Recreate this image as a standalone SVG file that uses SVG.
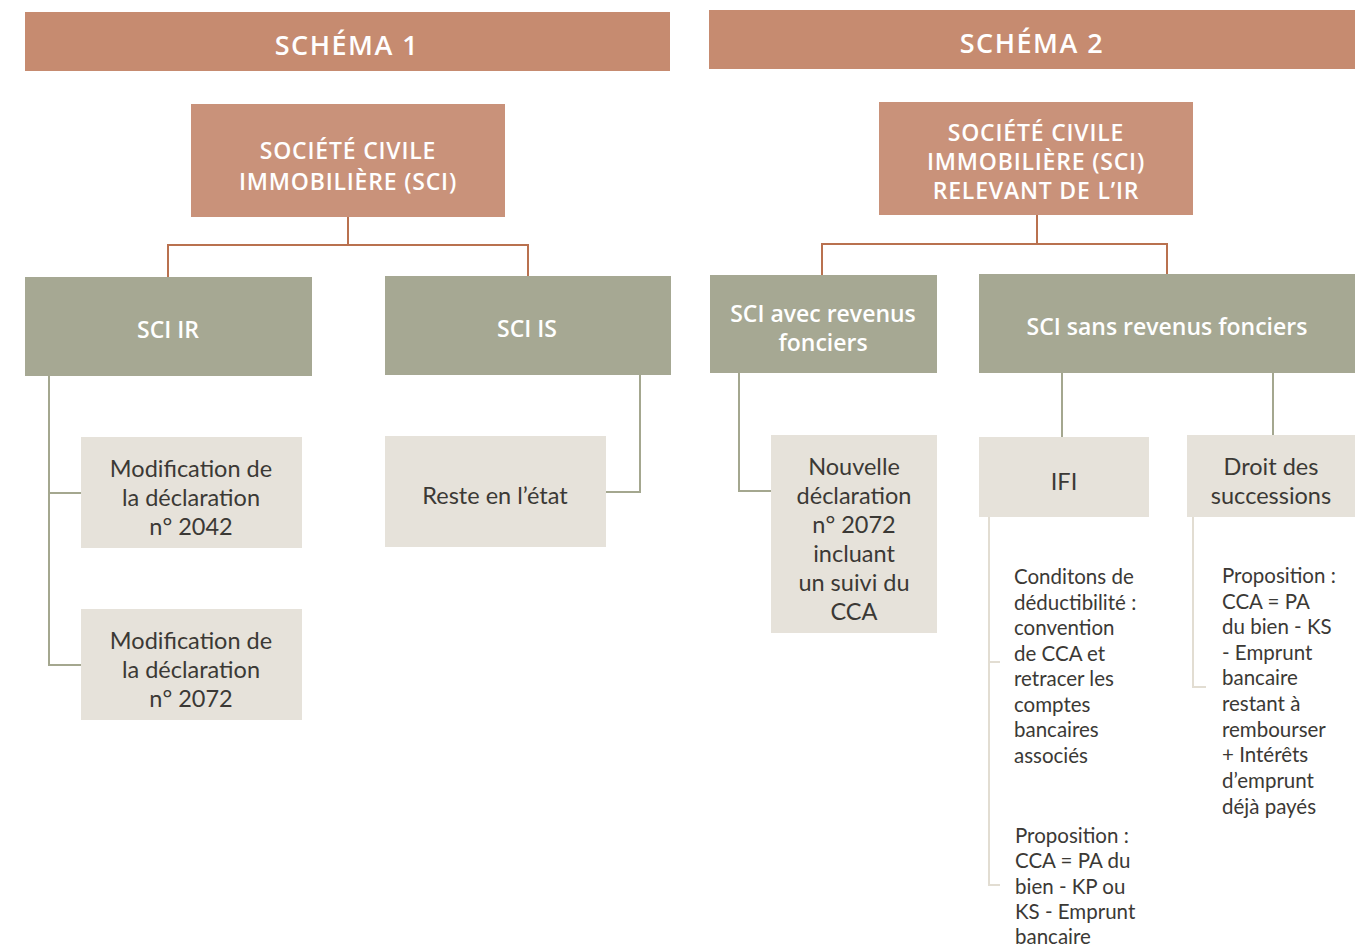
<svg xmlns="http://www.w3.org/2000/svg" width="1366" height="946" viewBox="0 0 1366 946">
<style>
.hdr{fill:#c68b70}
.top{fill:#c9927a}
.mid{fill:#a6a893}
.leaf{fill:#e6e2da}
.th{font-family:"Open Sans",sans-serif;font-weight:600;fill:#fff;text-anchor:middle}
.tl{font-family:Lato,"Open Sans",sans-serif;font-weight:400;fill:#3b3935;text-anchor:middle;font-size:23.5px}
.tn{font-family:Lato,"Open Sans",sans-serif;font-weight:400;fill:#3b3935;font-size:20.5px}
.c1{fill:none;stroke:#b9714f;stroke-width:2}
.c2{fill:none;stroke:#a4a78f;stroke-width:2}
.c3{fill:none;stroke:#e2ddd2;stroke-width:2}
</style>
<rect width="1366" height="946" fill="#fff"/>
<g id="connectors">
<path class="c1" d="M348 217V245M168 277V245H528V277"/>
<path class="c2" d="M49 376V665H81M49 493H81"/>
<path class="c2" d="M640 375V492H606"/>
<path class="c1" d="M1037 215V244M822 275V244H1167V275"/>
<path class="c2" d="M739 373V491H771"/>
<path class="c2" d="M1062 373V437M1273 373V435"/>
<path class="c3" d="M989 517V885H1000M989 662H1000"/>
<path class="c3" d="M1193 517V687H1206"/>
</g>
<g id="header1"><rect class="hdr" x="25" y="12" width="645" height="59"/><text class="th" x="347" y="55" font-size="27" letter-spacing="1.5">SCHÉMA 1</text></g>
<g id="header2"><rect class="hdr" x="709" y="10" width="646" height="59"/><text class="th" x="1032" y="53" font-size="27" letter-spacing="1.5">SCHÉMA 2</text></g>
<g id="sci1"><rect class="top" x="191" y="104" width="314" height="113"/><text class="th" x="348" y="159" font-size="23" letter-spacing="0.8">SOCIÉTÉ CIVILE</text><text class="th" x="348" y="190" font-size="23" letter-spacing="0.8">IMMOBILIÈRE (SCI)</text></g>
<g id="sci-ir"><rect class="mid" x="25" y="277" width="287" height="99"/><text class="th" x="168" y="338" font-size="23">SCI IR</text></g>
<g id="sci-is"><rect class="mid" x="385" y="276" width="286" height="99"/><text class="th" x="527" y="337" font-size="23">SCI IS</text></g>
<g id="mod2042"><rect class="leaf" x="81" y="437" width="221" height="111"/><text class="tl" x="191" y="477">Modification de</text><text class="tl" x="191" y="506">la déclaration</text><text class="tl" x="191" y="535">n° 2042</text></g>
<g id="mod2072"><rect class="leaf" x="81" y="609" width="221" height="111"/><text class="tl" x="191" y="649">Modification de</text><text class="tl" x="191" y="678">la déclaration</text><text class="tl" x="191" y="707">n° 2072</text></g>
<g id="reste"><rect class="leaf" x="385" y="436" width="221" height="111"/><text class="tl" x="495" y="504">Reste en l’état</text></g>
<g id="sci2"><rect class="top" x="879" y="102" width="314" height="113"/><text class="th" x="1036" y="141" font-size="23" letter-spacing="0.8">SOCIÉTÉ CIVILE</text><text class="th" x="1036" y="170" font-size="23" letter-spacing="0.8">IMMOBILIÈRE (SCI)</text><text class="th" x="1036" y="199" font-size="23" letter-spacing="0.8">RELEVANT DE L’IR</text></g>
<g id="avec"><rect class="mid" x="710" y="275" width="227" height="98"/><text class="th" x="823" y="322" font-size="23">SCI avec revenus</text><text class="th" x="823" y="351" font-size="23">fonciers</text></g>
<g id="sans"><rect class="mid" x="979" y="274" width="376" height="99"/><text class="th" x="1167" y="335" font-size="23">SCI sans revenus fonciers</text></g>
<g id="nouvelle"><rect class="leaf" x="771" y="435" width="166" height="198"/><text class="tl" x="854" y="475">Nouvelle</text><text class="tl" x="854" y="504">déclaration</text><text class="tl" x="854" y="533">n° 2072</text><text class="tl" x="854" y="562">incluant</text><text class="tl" x="854" y="591">un suivi du</text><text class="tl" x="854" y="620">CCA</text></g>
<g id="ifi"><rect class="leaf" x="979" y="437" width="170" height="80"/><text class="tl" x="1064" y="490">IFI</text></g>
<g id="droit"><rect class="leaf" x="1187" y="435" width="168" height="82"/><text class="tl" x="1271" y="475">Droit des</text><text class="tl" x="1271" y="504">successions</text></g>
<g id="conditions"><text class="tn" x="1014" y="584">Conditons de</text><text class="tn" x="1014" y="610">déductibilité :</text><text class="tn" x="1014" y="635">convention</text><text class="tn" x="1014" y="661">de CCA et</text><text class="tn" x="1014" y="686">retracer les</text><text class="tn" x="1014" y="712">comptes</text><text class="tn" x="1014" y="737">bancaires</text><text class="tn" x="1014" y="763">associés</text></g>
<g id="proposition-ifi"><text class="tn" x="1015" y="843">Proposition :</text><text class="tn" x="1015" y="868">CCA = PA du</text><text class="tn" x="1015" y="894">bien - KP ou</text><text class="tn" x="1015" y="919">KS - Emprunt</text><text class="tn" x="1015" y="944">bancaire</text></g>
<g id="proposition-droit"><text class="tn" x="1222" y="583">Proposition :</text><text class="tn" x="1222" y="609">CCA = PA</text><text class="tn" x="1222" y="634">du bien -  KS</text><text class="tn" x="1222" y="660">- Emprunt</text><text class="tn" x="1222" y="685">bancaire</text><text class="tn" x="1222" y="711">restant à</text><text class="tn" x="1222" y="737">rembourser</text><text class="tn" x="1222" y="762">+ Intérêts</text><text class="tn" x="1222" y="788">d’emprunt</text><text class="tn" x="1222" y="814">déjà payés</text></g>
</svg>
